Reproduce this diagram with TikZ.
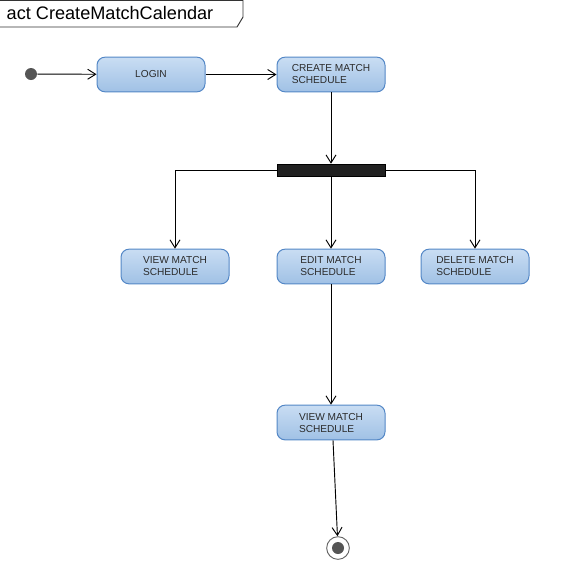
\documentclass[tikz,border=0pt]{standalone}
\usepackage{fontspec}
\setmainfont{Liberation Sans}
\usetikzlibrary{arrows.meta}

\definecolor{boxtop}{HTML}{C9DDF3}
\definecolor{boxbot}{HTML}{A0C1E5}
\definecolor{boxline}{HTML}{5387C6}
\definecolor{txtgray}{HTML}{2B2B2B}
\definecolor{dotgray}{HTML}{555555}

\tikzset{
	action/.style={draw=boxline, line width=0.75pt, rounded corners=6pt, top color=boxtop, bottom color=boxbot,
		minimum width=81pt, minimum height=26pt, inner sep=0pt, align=left,
		text=txtgray, font=\fontsize{7.6}{9}\selectfont},
	flow/.style={-{Straight Barb[length=6pt,width=7.5pt]}, line width=0.7pt},
	forkbar/.style={draw=black, fill=black!87, minimum width=81pt, minimum height=9pt, inner sep=0pt},
}

\begin{document}
\begin{tikzpicture}[x=0.75pt,y=-0.75pt]

	\useasboundingbox (0,0) rectangle (566,565);

	% Frame
	\draw[black!80, line width=0.7pt] (0,0.5) -- (243,0.5) -- (243,17) -- (237,27) -- (0,27);
	\node[anchor=west, font=\fontsize{13.6}{15}\selectfont] (title) at (2,13) {act CreateMatchCalendar};

	% Nodes
	\node[circle, fill=dotgray, minimum size=9pt, inner sep=0pt] (start) at (31,74) {};
	\node[action, align=center] (login) at (151,74.5) {LOGIN};
	\node[action] (create) at (331,74.5) {CREATE MATCH\\SCHEDULE};
	\node[forkbar] (fork) at (331,170) {};
	\node[action] (view) at (175,266.5) {VIEW MATCH\\SCHEDULE};
	\node[action] (edit) at (331,266.5) {EDIT MATCH\\SCHEDULE};
	\node[action] (delete) at (475,266.5) {DELETE MATCH\\SCHEDULE};
	\node[action] (viewb) at (331,422.5) {VIEW MATCH\\SCHEDULE};
	\node[circle, draw=black!60, line width=0.7pt, minimum size=17pt, inner sep=0pt] (stop) at (338,548) {};
	\node[circle, fill=dotgray, minimum size=9pt, inner sep=0pt] (stopdot) at (stop) {};

	% Flows
	\draw[flow] (start) -- (login);
	\draw[flow] (login) -- (create);
	\draw[flow] (create) -- (fork);
	\draw[flow] (fork.west) -| (view.north);
	\draw[flow] (fork) -- (edit);
	\draw[flow] (fork.east) -| (delete.north);
	\draw[flow] (edit) -- (viewb);
	\draw[flow] ([xshift=1.5pt]viewb.south) -- (stop);

\end{tikzpicture}
\end{document}
